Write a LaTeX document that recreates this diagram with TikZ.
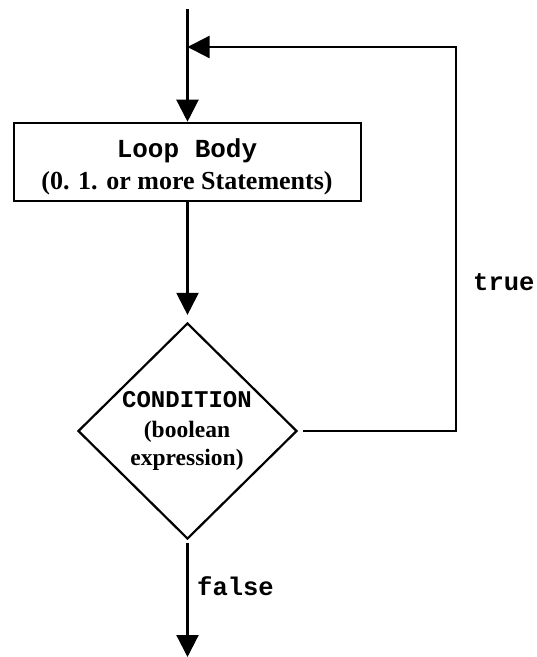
\documentclass[tikz,border=0pt]{standalone}
\usepackage{fontspec}
\setmainfont{Liberation Serif}
\setmonofont{Liberation Mono}
\usetikzlibrary{arrows.meta,shapes.geometric}
\begin{document}
\begin{tikzpicture}[x=1pt,y=-1pt,
  line/.style={line width=2.2pt},
  tip/.style={-{Triangle[length=22pt,width=22pt]}},
  bodybox/.style={draw,line width=2.6pt,minimum width=347pt,minimum height=78pt,inner sep=0pt},
  decision/.style={draw,diamond,line width=2.2pt,minimum width=219pt,minimum height=216pt,inner sep=0pt},
  txt/.style={inner sep=0pt,anchor=base,font=\bfseries},
  lbl/.style={inner sep=0pt,anchor=base west,font=\ttfamily\bfseries\fontsize{25.5}{28}\selectfont}]
\useasboundingbox (0,0) rectangle (537,657);
\node[bodybox] (body) at (187.5,162) {};
\node[decision] (cond) at (187.5,431) {};
\node[txt,font=\ttfamily\bfseries\fontsize{26}{28}\selectfont] (t1) at (187,157) {Loop Body};
\node[txt,font=\bfseries\fontsize{26}{28}\selectfont] (t2) at (187,189) {(0. 1. or more Statements)};
\node[txt,font=\ttfamily\bfseries\fontsize{24}{26}\selectfont] (c1) at (187,407) {CONDITION};
\node[txt,font=\bfseries\fontsize{23.5}{26}\selectfont] (c2) at (187,437) {(boolean};
\node[txt,font=\bfseries\fontsize{23.5}{26}\selectfont] (c3) at (187,465) {expression)};
\node[lbl] (ltrue) at (473,290) {true};
\node[lbl] (lfalse) at (197,595) {false};
\coordinate (start) at (187.5,9);
\coordinate (join) at (187.5,47);
\coordinate (rc) at (456,431);
\coordinate (rt) at (456,47);
\coordinate (end) at (187.5,657);
\draw[line,tip] (start) -- (body.north);
\draw[line,tip,shorten >=7pt] (body.south) -- (cond.north);
\draw[line,tip,shorten <=5pt] (cond.east) -- (rc) -- (rt) -- (join);
\draw[line,tip,shorten <=3pt] (cond.south) -- (end);
\end{tikzpicture}
\end{document}
